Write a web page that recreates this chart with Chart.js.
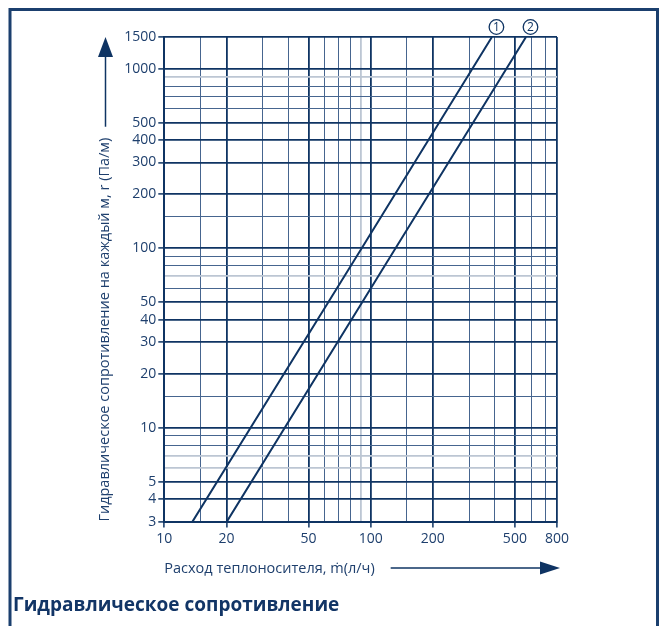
<!DOCTYPE html>
<html>
<head>
<meta charset="utf-8">
<script src="https://cdn.jsdelivr.net/npm/chart.js@4.4.1/dist/chart.umd.min.js"></script>
<style>
  html, body { margin: 0; padding: 0; background: #ffffff; }
  canvas { display: block; }
</style>
</head>
<body>
<canvas id="chart" width="662" height="626"></canvas>
<script>
// Flow rate axis (л/ч): labelled ticks and the extra grid lines between them
const flowLabels = [10, 20, 50, 100, 200, 500, 800];
const flowMinorGrid = [15, 30, 40, 60, 70, 80, 150, 300, 400, 600, 700];
const flowFaintGrid = [90];

// Resistance axis (Па/м)
const resistanceLabels = [3, 4, 5, 10, 20, 30, 40, 50, 100, 200, 300, 400, 500, 1000, 1500];
const resistanceMinorGrid = [8, 9, 15, 60, 80, 90, 150, 600, 700, 800];
const resistanceFaintGrid = [6, 7, 70, 900];

// Pipe curves
const curveNames = ['1', '2'];
const curve1Flow = [13.7, 90.5, 387];
const curve1Resistance = [3, 100, 1500];
const curve2Flow = [20.1, 132, 566];
const curve2Resistance = [3, 100, 1500];

const NAVY = '#0f3463';
const MINOR = '#46658f';
const FAINT = '#bcc6d3';
const TEXT = '#1e3f6d';
const FONT = "'Open Sans', Roboto, sans-serif";

function gridStyle(labels, minor, faint) {
  const val = c => (c.tick ? c.tick.value : null);
  return {
    drawTicks: true,
    tickLength: 6,
    color: c => faint.includes(val(c)) ? FAINT : (minor.includes(val(c)) ? MINOR : NAVY),
    lineWidth: c => faint.includes(val(c)) ? 1.8 : (minor.includes(val(c)) ? 1 : 1.8),
    tickColor: c => labels.includes(val(c)) ? NAVY : 'rgba(0,0,0,0)',
    tickWidth: 1.5
  };
}

function allTicks(labels, minor, faint) {
  return [...labels, ...minor, ...faint].sort((a, b) => a - b).map(v => ({ value: v }));
}

const toPoints = (xs, ys) => xs.map((x, i) => ({ x: x, y: ys[i] }));

// Frame, axis arrows and circled curve numbers
const decorations = {
  id: 'decorations',
  afterDraw(chart) {
    const { ctx, chartArea, scales } = chart;
    ctx.save();

    // outer frame (open at the bottom)
    ctx.strokeStyle = '#1b3f6e';
    ctx.lineWidth = 3;
    ctx.beginPath();
    ctx.moveTo(10, 626);
    ctx.lineTo(10, 9.5);
    ctx.lineTo(657.5, 9.5);
    ctx.lineTo(657.5, 626);
    ctx.stroke();

    ctx.fillStyle = NAVY;
    ctx.strokeStyle = NAVY;
    ctx.lineWidth = 1.5;

    // vertical arrow above the resistance title
    ctx.font = '14.5px ' + FONT;
    const yTitleW = ctx.measureText(chart.options.scales.y.title.text).width;
    const ax = 105.5;
    const yStart = chartArea.bottom - yTitleW - 11;
    ctx.beginPath();
    ctx.moveTo(ax, yStart);
    ctx.lineTo(ax, 56);
    ctx.stroke();
    ctx.beginPath();
    ctx.moveTo(ax, 37);
    ctx.lineTo(ax - 7.5, 57);
    ctx.lineTo(ax + 7.5, 57);
    ctx.closePath();
    ctx.fill();

    // horizontal arrow after the flow title
    const xTitleW = ctx.measureText(chart.options.scales.x.title.text).width;
    const ay = 568;
    const xStart = chartArea.left + xTitleW + 16;
    ctx.beginPath();
    ctx.moveTo(xStart, ay);
    ctx.lineTo(541, ay);
    ctx.stroke();
    ctx.beginPath();
    ctx.moveTo(560, ay);
    ctx.lineTo(540, ay - 6.5);
    ctx.lineTo(540, ay + 6.5);
    ctx.closePath();
    ctx.fill();

    // circled numbers at the top end of each curve
    chart.data.datasets.forEach((ds, i) => {
      const last = ds.data[ds.data.length - 1];
      const cx = scales.x.getPixelForValue(last.x) + 4.5;
      const cy = scales.y.getPixelForValue(last.y) - 10;
      ctx.lineWidth = 1.3;
      ctx.beginPath();
      ctx.arc(cx, cy, 7.3, 0, Math.PI * 2);
      ctx.fillStyle = '#ffffff';
      ctx.fill();
      ctx.stroke();
      ctx.fillStyle = NAVY;
      ctx.font = '12px ' + FONT;
      ctx.textAlign = 'center';
      ctx.textBaseline = 'middle';
      ctx.fillText(curveNames[i], cx, cy + 0.5);
    });

    ctx.restore();
  }
};

new Chart(document.getElementById('chart'), {
  type: 'scatter',
  data: {
    datasets: [
      { label: curveNames[0], data: toPoints(curve1Flow, curve1Resistance) },
      { label: curveNames[1], data: toPoints(curve2Flow, curve2Resistance) }
    ].map(d => Object.assign(d, {
      showLine: true,
      borderColor: NAVY,
      borderWidth: 2,
      pointRadius: 0,
      fill: false
    }))
  },
  options: {
    responsive: false,
    animation: false,
    layout: { padding: { left: 13, right: 105, top: 37, bottom: 4 } },
    plugins: {
      legend: { display: false },
      tooltip: { enabled: false },
      title: {
        display: true,
        position: 'bottom',
        align: 'start',
        text: 'Гидравлическое сопротивление',
        color: '#123566',
        font: { family: FONT, size: 19, weight: 'bold' },
        padding: { top: 12.6, bottom: 5 }
      }
    },
    scales: {
      x: {
        type: 'logarithmic',
        min: 10,
        max: 800,
        afterBuildTicks: s => { s.ticks = allTicks(flowLabels, flowMinorGrid, flowFaintGrid); },
        afterFit: s => { s.height = 60; },
        border: { display: true, color: NAVY, width: 2 },
        grid: gridStyle(flowLabels, flowMinorGrid, flowFaintGrid),
        ticks: {
          autoSkip: false,
          maxRotation: 0,
          padding: 3,
          color: TEXT,
          font: { family: FONT, size: 14 },
          callback: v => flowLabels.includes(v) ? String(v) : ''
        },
        title: {
          display: true,
          align: 'start',
          text: 'Расход теплоносителя, ṁ(л/ч)',
          color: TEXT,
          font: { family: FONT, size: 14.5 },
          padding: { top: 0, bottom: 4.3 }
        }
      },
      y: {
        type: 'logarithmic',
        min: 3,
        max: 1500,
        afterBuildTicks: s => { s.ticks = allTicks(resistanceLabels, resistanceMinorGrid, resistanceFaintGrid); },
        afterFit: s => { s.width = 151.3; },
        border: { display: true, color: NAVY, width: 2 },
        grid: gridStyle(resistanceLabels, resistanceMinorGrid, resistanceFaintGrid),
        ticks: {
          autoSkip: false,
          padding: 2,
          color: TEXT,
          font: { family: FONT, size: 14 },
          callback: v => resistanceLabels.includes(v) ? String(v) : ''
        },
        title: {
          display: true,
          align: 'start',
          text: 'Гидравлическое сопротивление на каждый м, r (Па/м)',
          color: TEXT,
          font: { family: FONT, size: 14.5 },
          padding: { top: 83.3, bottom: 0 }
        }
      }
    }
  },
  plugins: [decorations]
});
</script>
</body>
</html>
